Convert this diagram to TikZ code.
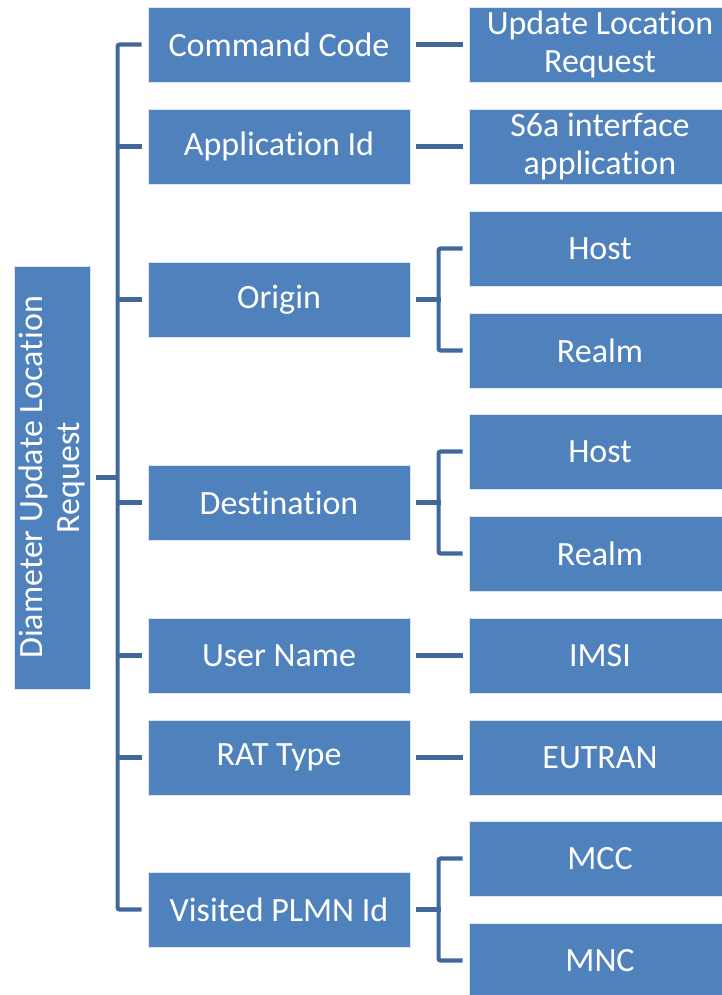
\documentclass[tikz,border=0pt]{standalone}
\usepackage{fontspec}
\setmainfont[Ligatures=NoCommon]{Carlito}
\definecolor{boxblue}{RGB}{79,129,189}
\definecolor{lineblue}{RGB}{65,104,155}
\begin{document}
\begin{tikzpicture}[x=1pt,y=-1pt,
  box/.style={draw=white!80!boxblue, line width=0.8pt, fill=boxblue, text=white,
    font=\fontsize{34}{37.5}\selectfont, align=center, inner sep=0pt, anchor=center},
  mid/.style={box, minimum width=262pt, minimum height=75pt},
  leaf/.style={box, minimum width=262pt, minimum height=75pt},
  link/.style={draw=lineblue, line width=4.2pt}]
\useasboundingbox (0,0) rectangle (721,995);

% root
\node[box, minimum width=76pt, minimum height=423pt] (root) at (52,477.5) {};
\node[rotate=90, text=white, font=\fontsize{34}{37.5}\selectfont, align=center, inner sep=0pt] (roottext) at (root.center) {Diameter Update Location\\Request};

% middle column
\node[mid] (cc)   at (279,44.5)  {Command Code};
\node[mid] (app)  at (279,146.5) {Application Id};
\node[mid] (orig) at (279,299.5) {Origin};
\node[mid] (dest) at (279,502.5) {Destination};
\node[mid] (user) at (279,655.5) {User Name};
\node[mid] (rat)  at (279,757.5) {RAT Type};
\node[mid] (vpl)  at (279,909.5) {Visited PLMN Id};

% right column (boxes run past the right edge)
\node[leaf] (ulr)    at (600,44.5)  {Update Location\\Request};
\node[leaf] (s6a)    at (600,146.5) {S6a interface\\application};
\node[leaf] (host1)  at (600,248.5) {Host};
\node[leaf] (realm1) at (600,350.5) {Realm};
\node[leaf] (host2)  at (600,451.5) {Host};
\node[leaf] (realm2) at (600,553.5) {Realm};
\node[leaf] (imsi)   at (600,655.5) {IMSI};
\node[leaf] (eutran) at (600,757.5) {EUTRAN};
\node[leaf] (mcc)    at (600,858.5) {MCC};
\node[leaf] (mnc)    at (600,960.5) {MNC};

% spine
\coordinate (rj) at (118,477.5);
\draw[link, rounded corners=2pt] ([xshift=-6pt]cc.west) -| ([xshift=-30pt]vpl.west) -- ([xshift=-6pt]vpl.west);
\draw[link] ([xshift=6pt]root.east) -- (rj);
\foreach \m in {app,orig,dest,user,rat}
  \draw[link] ([xshift=-6pt]\m.west) -- ++(-26,0);

% single links
\draw[link] ([xshift=6pt]cc.east) -- ([xshift=-6pt]ulr.west);
\draw[link] ([xshift=6pt]app.east) -- ([xshift=-6pt]s6a.west);
\draw[link] ([xshift=6pt]user.east) -- ([xshift=-6pt]imsi.west);
\draw[link] ([xshift=6pt]rat.east) -- ([xshift=-6pt]eutran.west);

% brackets
\draw[link, rounded corners=2pt] ([xshift=-6pt]host1.west) -- ++(-24,0) |- ([xshift=-6pt]realm1.west);
\draw[link] ([xshift=6pt]orig.east) -- ++(25,0);
\draw[link, rounded corners=2pt] ([xshift=-6pt]host2.west) -- ++(-24,0) |- ([xshift=-6pt]realm2.west);
\draw[link] ([xshift=6pt]dest.east) -- ++(25,0);
\draw[link, rounded corners=2pt] ([xshift=-6pt]mcc.west) -- ++(-24,0) |- ([xshift=-6pt]mnc.west);
\draw[link] ([xshift=6pt]vpl.east) -- ++(25,0);
\end{tikzpicture}
\end{document}
